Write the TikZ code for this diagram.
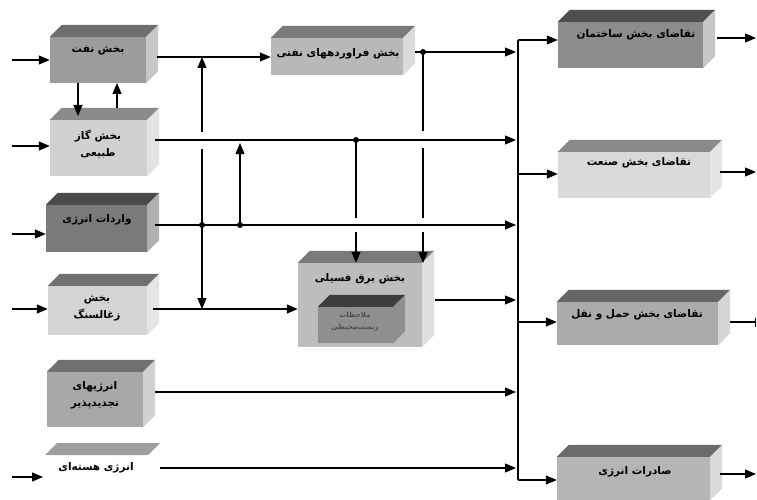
\documentclass[tikz,border=0pt]{standalone}
\usepackage{fontspec}
\newfontfamily\fa[Script=Arabic]{DejaVu Sans}
\TeXXeTstate=1
\usetikzlibrary{arrows.meta,calc}
\newcommand{\Cube}[8]{%
  \node[cube, minimum width=#4pt, minimum height=#5pt, fill=#6] (#1) at (#2,#3) {};
  \fill[#7] (#1.north west) -- ++(12,-12) -- ([shift={(12,-12)}]#1.north east) -- (#1.north east) -- cycle;
  \fill[#8] (#1.north east) -- ++(12,-12) -- ([shift={(12,-12)}]#1.south east) -- (#1.south east) -- cycle;
}
\newcommand{\RL}[1]{\beginR #1\endR}
\begin{document}
\begin{tikzpicture}[x=1pt,y=-1pt,
  cube/.style={draw=none,inner sep=0pt,rectangle},
  lbl/.style={font=\fa\bfseries\fontsize{10.5}{17}\selectfont, align=center, inner sep=0pt},
  small/.style={font=\fa\bfseries\fontsize{7}{12}\selectfont, align=center, inner sep=0pt, text=black!70},
  ln/.style={line width=1.2pt},
  arr/.style={line width=1.2pt,-{Triangle[length=11pt,width=9pt]}},
  barr/.style={line width=1.2pt,-{Bar[width=9pt]}},
  dot/.style={circle,fill=black,inner sep=0pt,minimum size=6pt}]
\useasboundingbox[fill=white] (0,0) rectangle (757,500);

% ---------- left column ----------
\Cube{b1}{98}{60}{96}{46}{black!39}{black!57}{black!22}
\node[lbl] (t1) at (98,50) {\RL{بخش نفت}};
\Cube{b2}{98.5}{148}{97}{56}{black!18}{black!46}{black!11}
\node[lbl] (t2) at (98,144) {\RL{بخش گاز}\\\RL{طبیعی}};
\Cube{b3}{96.5}{228.5}{101}{47}{black!52}{black!71}{black!31}
\node[lbl] (t3) at (97,220) {\RL{واردات انرژی}};
\Cube{b4}{97.5}{310.5}{99}{49}{black!17}{black!56}{black!10}
\node[lbl] (t4) at (97,308) {\RL{بخش}\\\RL{زغالسنگ}};
\Cube{b5}{95}{399.5}{96}{55}{black!34}{black!56}{black!18}
\node[lbl] (t5) at (95,395) {\RL{انرژیهای}\\\RL{تجدیدپذیر}};
\fill[black!38] (45,455) -- (57,443) -- (160,443) -- (148,455) -- cycle;
\node[lbl] (t6) at (96,468) {\RL{انرژی هسته‌ای}};

% ---------- middle ----------
\Cube{b7}{337}{56.5}{132}{37}{black!28}{black!52}{black!14}
\node[lbl] (t7) at (338,54) {\RL{بخش فراوردههای نفتی}};
\Cube{b8}{360}{305}{124}{84}{black!26}{black!52}{black!12}
\node[lbl] (t8) at (360,279) {\RL{بخش برق فسیلی}};
\Cube{b8i}{355.5}{325}{75}{36}{black!44}{black!76}{black!44}
\node[small] (t8i) at (355,322) {\RL{ملاحظات}\\\RL{زیست‌محیطی}};

% ---------- right column ----------
\Cube{b9}{630.5}{45}{145}{46}{black!45}{black!69}{black!22}
\node[lbl] (t9) at (636,35) {\RL{تقاضای بخش ساختمان}};
\Cube{b10}{634}{175}{152}{46}{black!15}{black!46}{black!10}
\node[lbl] (t10) at (639,163) {\RL{تقاضای بخش صنعت}};
\Cube{b11}{637.5}{323.5}{161}{43}{black!33}{black!60}{black!16}
\node[lbl] (t11) at (637,315) {\RL{تقاضای بخش حمل و نقل}};
\Cube{b12}{633.5}{478.5}{153}{43}{black!29}{black!58}{black!15}
\node[lbl] (t12) at (635,472) {\RL{صادرات انرژی}};

% ---------- junctions ----------
\node[dot] (d1) at (202,225) {};
\node[dot] (d2) at (240,225) {};
\node[dot] (d3) at (356,140) {};
\node[dot] (d4) at (423,52) {};
\coordinate (busTop) at (518,40);
\coordinate (busBot) at (518,480);

% inputs on the left
\draw[arr] (12,60) -- (b1.west);
\draw[arr] (12,146) -- (b2.west |- 0,146);
\draw[arr] (12,234) -- (b3.west |- 0,234);
\draw[arr] (12,309) -- (b4.west |- 0,309);
\draw[arr] (12,477) -- (43,477);

% between oil and gas
\draw[arr] (78,83) -- (78,116);
\draw[arr] (117,108) -- (117,83);

% horizontal flows
\draw[arr] (157,57) -- (b7.west |- 0,57);
\draw[ln] (b7.east |- 0,52) ++(12,0) -- (d4.center);
\draw[arr] (d4.center) -- (516,52);
\draw[arr] (155,140) -- (516,140);
\draw[arr] (155,225) -- (516,225);
\draw[arr] (153,309) -- (b8.west |- 0,309);
\draw[arr] (435,300) -- (516,300);
\draw[arr] (155,392) -- (516,392);
\draw[arr] (160,468) -- (516,468);

% verticals with gaps at crossings
\draw[arr] (202,132) -- (202,57);
\draw[ln] (d1.center) -- (202,149);
\draw[arr] (d1.center) -- (202,309);
\draw[arr] (d2.center) -- (240,143);
\draw[ln] (d3.center) -- (356,218);
\draw[arr] (356,232) -- (b8.north -| 356,0);
\draw[ln] (d4.center) -- (423,131);
\draw[ln] (423,148) -- (423,218);
\draw[arr] (423,232) -- (423,263);

% bus and outputs
\draw[ln] (busTop) -- (busBot);
\draw[arr] (busTop) -- (b9.west |- busTop);
\draw[arr] (518,174) -- (b10.west |- 0,174);
\draw[arr] (518,322) -- (b11.west |- 0,322);
\draw[arr] (busBot) -- (b12.west |- busBot);

\draw[arr] (717,38) -- (756,38);
\draw[arr] (720,172) -- (756,172);
\draw[barr] (730,322) -- (756,322);
\draw[arr] (720,474) -- (756,474);
\end{tikzpicture}
\end{document}
